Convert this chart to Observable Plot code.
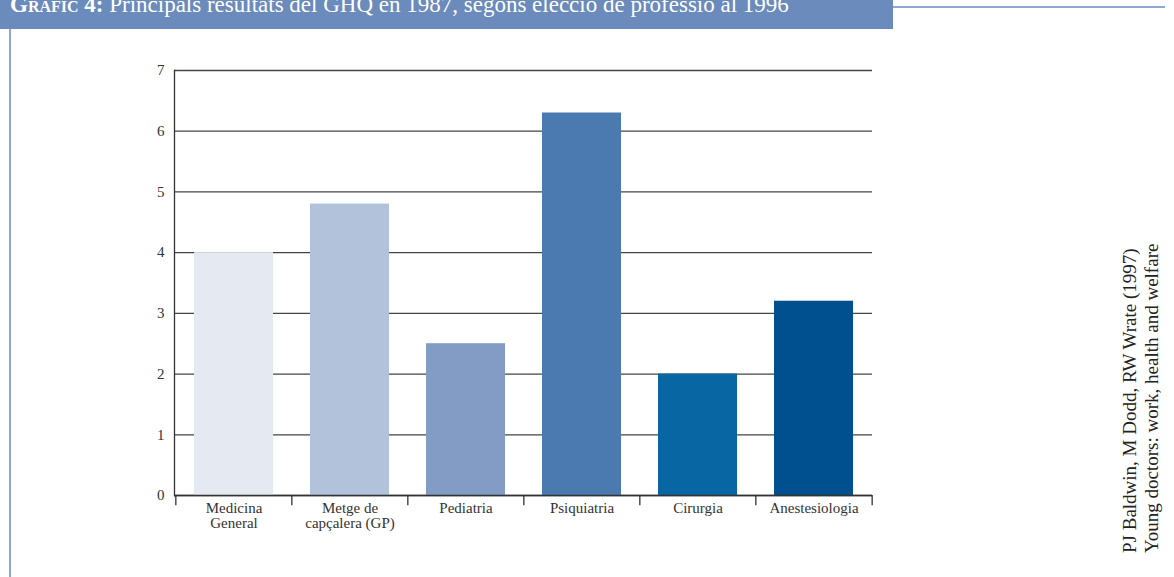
<!DOCTYPE html>
<html>
<head>
<meta charset="utf-8">
<script src="https://cdn.jsdelivr.net/npm/d3@7"></script>
<script src="https://cdn.jsdelivr.net/npm/@observablehq/plot@0.6"></script>
<style>
  html, body { margin: 0; padding: 0; background: #fff; }
  body { width: 1174px; height: 577px; position: relative; overflow: hidden; font-family: "Liberation Serif", "DejaVu Serif", serif; }
  #header { position: absolute; left: 0; top: 0; width: 893px; height: 29px; background: #6a8bbb; overflow: hidden; }
  #title { position: absolute; left: 10px; top: -8px; color: #fff; font-size: 23px; line-height: 25px; white-space: nowrap; }
  #title b { font-variant: small-caps; font-weight: bold; }
  #topline { position: absolute; left: 893px; top: 6px; width: 272px; height: 2px; background: #8fa8d0; }
  #leftline { position: absolute; left: 9px; top: 29px; width: 2px; height: 548px; background: #8fa8d0; }
  #chart { position: absolute; left: 0; top: 0; }
  #source { position: absolute; left: 1119px; top: 553px; transform-origin: 0 0; transform: rotate(-90deg); font-size: 19px; line-height: 22px; color: #222; white-space: nowrap; }
</style>
</head>
<body>
<div id="chart"></div>
<div id="header"><div id="title"><b>Gràfic 4:</b> Principals resultats del GHQ en 1987, segons elecció de professió al 1996</div></div>
<div id="topline"></div>
<div id="leftline"></div>
<div id="source">PJ Baldwin, M Dodd, RW Wrate (1997)<br>Young doctors: work, health and welfare</div>
<script>
const categories = ["Medicina General", "Metge de capçalera (GP)", "Pediatria", "Psiquiatria", "Cirurgia", "Anestesiologia"];
const tickLabels = ["Medicina\nGeneral", "Metge de\ncapçalera (GP)", "Pediatria", "Psiquiatria", "Cirurgia", "Anestesiologia"];
const values = [4.0, 4.8, 2.5, 6.3, 2.0, 3.2];
const barColors = ["#e5e9f2", "#b3c2db", "#829cc5", "#4a7aaf", "#0866a2", "#004f8f"];
const yTicks = [0, 1, 2, 3, 4, 5, 6, 7];

const data = categories.map((c, i) => ({category: c, value: values[i]}));
const labelOf = new Map(categories.map((c, i) => [c, tickLabels[i]]));

const W = 1174, H = 577, mL = 174, mR = 302, mT = 70, mB = 82;
const step = (W - mL - mR) / categories.length;

const chart = Plot.plot({
  width: W,
  height: H,
  marginLeft: mL,
  marginRight: mR,
  marginTop: mT,
  marginBottom: mB,
  style: {fontFamily: "'Liberation Serif', 'DejaVu Serif', serif", fontSize: "15px", color: "#333", background: "transparent"},
  x: {domain: categories, paddingInner: 0.32, paddingOuter: 0.16, axis: null},
  y: {domain: [0, 7], axis: null},
  color: {domain: categories, range: barColors},
  marks: [
    Plot.gridY(yTicks, {stroke: "#444", strokeOpacity: 1, strokeWidth: 1.3}),
    Plot.barY(data, {x: "category", y: "value", fill: "category"}),
    Plot.ruleY([0], {stroke: "#333", strokeWidth: 1.3}),
    Plot.frame({anchor: "left", stroke: "#333", strokeWidth: 1.3}),
    Plot.ruleX(categories, {x: d => d, y1: 0, y2: -0.17, dx: -step / 2, stroke: "#333", strokeWidth: 1.3}),
    Plot.ruleX(categories.slice(-1), {x: d => d, y1: 0, y2: -0.17, dx: step / 2, stroke: "#333", strokeWidth: 1.3}),
    Plot.axisY(yTicks, {tickSize: 0, tickPadding: 10, fontSize: 15, fill: "#333", tickFormat: d => String(d), label: null}),
    Plot.axisX({tickSize: 0, tickPadding: 7, fontSize: 15, fill: "#333", tickFormat: d => labelOf.get(d), lineHeight: 1.0, label: null})
  ]
});
document.getElementById("chart").appendChild(chart);
</script>
</body>
</html>
